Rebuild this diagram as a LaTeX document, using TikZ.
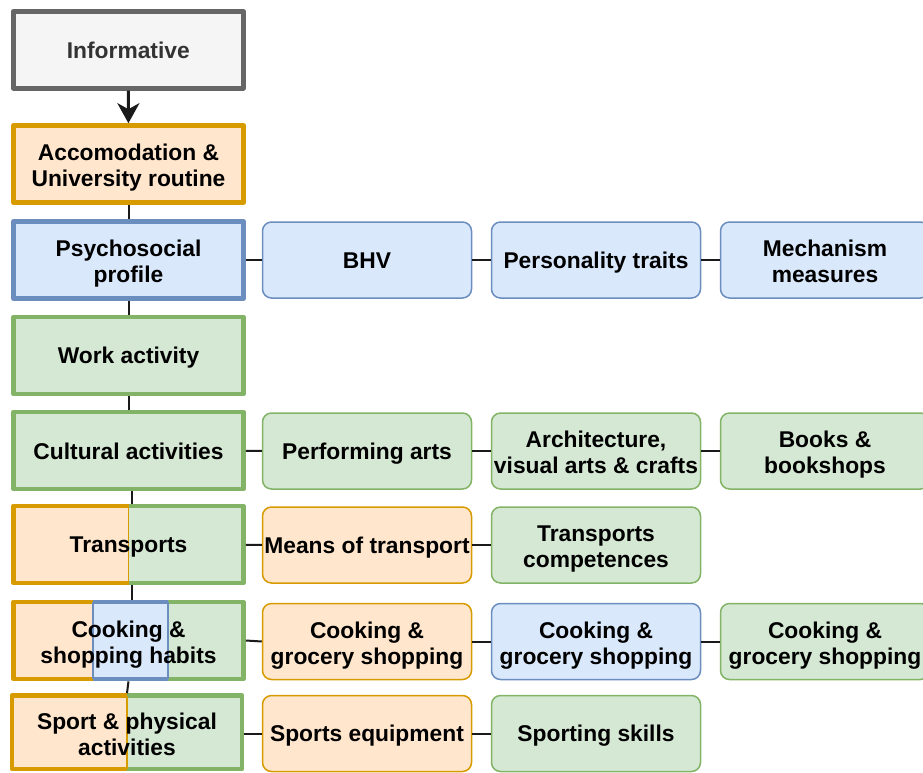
\documentclass[tikz,border=0pt]{standalone}
\usepackage{fontspec}
\setmainfont{Liberation Sans}
\usetikzlibrary{arrows.meta,backgrounds}
\definecolor{oF}{HTML}{FFE6CC}\definecolor{oS}{HTML}{D79B00}
\definecolor{bF}{HTML}{DAE8FC}\definecolor{bS}{HTML}{6C8EBF}
\definecolor{gF}{HTML}{D5E8D4}\definecolor{gS}{HTML}{82B366}
\definecolor{grF}{HTML}{F5F5F5}\definecolor{grS}{HTML}{666666}
\definecolor{grT}{HTML}{333333}
\definecolor{lnk}{HTML}{1A1A1A}
\newcommand\linestrut{\rule[-4.5pt]{0pt}{26pt}}
\newcommand\firstline{\rule{0pt}{24pt}}
\begin{document}
\begin{tikzpicture}[x=1pt,y=-1pt,
  every node/.style={font=\fontsize{22.8}{26}\selectfont\bfseries, align=center, inner sep=0pt,
    execute at begin node=\linestrut, execute at end node=\linestrut},
  mainbox/.style={minimum width=230pt, minimum height=77pt, line width=4.6pt, line join=round, outer sep=2.3pt},
  child/.style={minimum width=209pt, minimum height=76pt, rounded corners=9pt, line width=1.5pt, outer sep=0.75pt},
  thick border/.style={line width=4.6pt, line join=round},
  link/.style={line width=2pt, draw=lnk}
]
\useasboundingbox (0,0) rectangle (923,772);

% main column
\node[mainbox, draw=grS, fill=grF, text=grT] (info) at (128.3,49.7) {Informative};
\node[mainbox, draw=oS, fill=oF] (acc) at (128.5,164) {\firstline Accomodation \&\\University routine};
\node[mainbox, draw=bS, fill=bF] (psy) at (128.5,260) {\firstline Psychosocial\\profile};
\node[mainbox, draw=gS, fill=gF] (work) at (128.5,355.5) {Work activity};
\node[mainbox, draw=gS, fill=gF] (cult) at (128.5,450.5) {Cultural activities};
\node[mainbox] (trans) at (128.5,544.5) {Transports};
\node[mainbox] (cook) at (128.5,640.5) {\firstline Cooking \&\\shopping habits};
\node[mainbox, minimum height=74pt] (sport) at (127,732.5) {\firstline Sport \& physical\\activities};

\begin{scope}[on background layer]
  % Transports: orange | green
  \fill[gF] (128.5,506) rectangle (243.5,583);
  \fill[oF] (13.5,506) rectangle (128.5,583);
  \draw[gS, thick border] (128.5,506) -- (243.5,506) -- (243.5,583) -- (128.5,583);
  \draw[oS, thick border] (128.5,506) -- (13.5,506) -- (13.5,583) -- (128.5,583);
  \draw[oS, line width=1.2pt] (128.5,506) -- (128.5,583);
  % Cooking: orange | blue | green
  \fill[oF] (13.5,602) rectangle (93,679);
  \fill[bF] (93,602) rectangle (168,679);
  \fill[gF] (168,602) rectangle (243.5,679);
  \draw[oS, thick border] (93,602) -- (13.5,602) -- (13.5,679) -- (93,679);
  \draw[gS, thick border] (168,602) -- (243.5,602) -- (243.5,679) -- (168,679);
  \draw[bS, thick border] (93,602) -- (168,602) (93,679) -- (168,679);
  \draw[bS, line width=1.5pt] (93,602) -- (93,679) (168,602) -- (168,679);
  % Sport: orange | green
  \fill[gF] (127,695.5) rectangle (242,769);
  \fill[oF] (12,695.5) rectangle (127,769);
  \draw[gS, thick border] (127,695.5) -- (242,695.5) -- (242,769) -- (127,769);
  \draw[oS, thick border] (127,695.5) -- (12,695.5) -- (12,769) -- (127,769);
  \draw[oS, line width=1.2pt] (127,695.5) -- (127,769);
\end{scope}

% children
\node[child, draw=bS, fill=bF] (bhv) at (367,260) {BHV};
\node[child, draw=bS, fill=bF] (pers) at (596,260) {Personality traits};
\node[child, draw=bS, fill=bF] (mech) at (825,260) {\firstline Mechanism\\measures};

\node[child, draw=gS, fill=gF] (perf) at (367,451) {Performing arts};
\node[child, draw=gS, fill=gF] (arch) at (596,451) {\firstline Architecture,\\visual arts \& crafts};
\node[child, draw=gS, fill=gF] (books) at (825,451) {\firstline Books \&\\bookshops};

\node[child, draw=oS, fill=oF] (means) at (367,545) {Means of transport};
\node[child, draw=gS, fill=gF] (tcomp) at (596,545) {\firstline Transports\\competences};

\node[child, draw=oS, fill=oF] (cg1) at (367,641.5) {\firstline Cooking \&\\grocery shopping};
\node[child, draw=bS, fill=bF] (cg2) at (596,641.5) {\firstline Cooking \&\\grocery shopping};
\node[child, draw=gS, fill=gF] (cg3) at (825,641.5) {\firstline Cooking \&\\grocery shopping};

\node[child, draw=oS, fill=oF] (equip) at (367,733.5) {Sports equipment};
\node[child, draw=gS, fill=gF] (skills) at (596,733.5) {Sporting skills};

% connectors
\draw[link, -{Stealth[length=20pt,width=22pt,inset=6pt]}, line width=3pt] (info) -- (acc);
\draw[link] (acc) -- (psy);
\draw[link] (psy) -- (work);
\draw[link] (work) -- (cult);
\draw[link] ([xshift=3pt]cult.south) -- ([xshift=3pt]trans.north);
\draw[link] ([xshift=3pt]trans.south) -- ([xshift=3pt]cook.north);
\draw[link] (cook.south) -- (sport.north);

\draw[link] (psy) -- (bhv);
\draw[link] (bhv) -- (pers);
\draw[link] (pers) -- (mech);
\draw[link] (cult) -- (perf);
\draw[link] (perf) -- (arch);
\draw[link] (arch) -- (books);
\draw[link] (trans) -- (means);
\draw[link] (means) -- (tcomp);
\draw[link] (cook.east) -- (cg1.west);
\draw[link] (cg1) -- (cg2);
\draw[link] (cg2) -- (cg3);
\draw[link] (sport.east |- equip.west) -- (equip.west);
\draw[link] (equip) -- (skills);
\end{tikzpicture}
\end{document}
